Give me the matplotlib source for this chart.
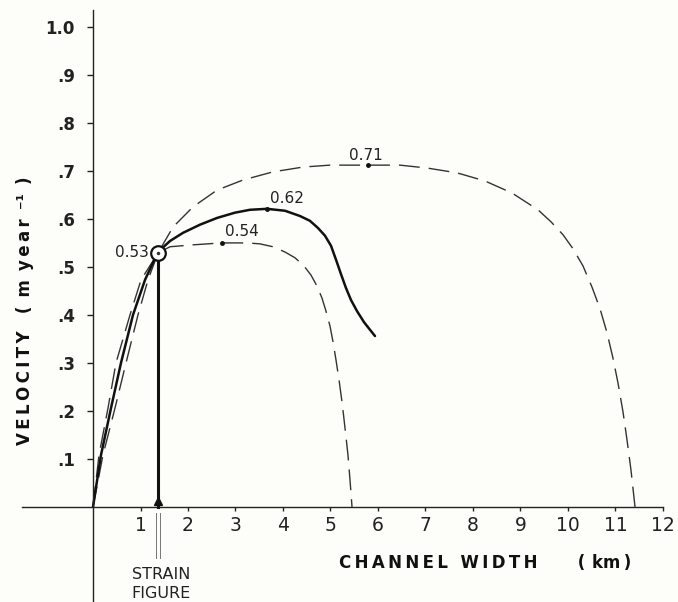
import matplotlib
matplotlib.use("Agg")
import matplotlib.pyplot as plt

plt.rcParams['font.family'] = ['DejaVu Sans']
plt.rcParams['lines.scale_dashes'] = False

# ---- data (channel width km, velocity m/yr) ----
w71 = [0, 0.126, 0.316, 0.484, 0.779, 1.011, 1.368, 1.684, 2.105, 2.611, 3.158, 3.789,
       4.421, 4.989, 5.789, 6.463, 7.032, 7.663, 8.253, 8.821, 9.368, 9.642, 9.895,
       10.105, 10.316, 10.505, 10.674, 10.821, 10.947, 11.053, 11.158, 11.242, 11.326, 11.411]
v71 = [0, 0.108, 0.206, 0.300, 0.400, 0.473, 0.529, 0.583, 0.625, 0.660, 0.681, 0.698,
       0.708, 0.712, 0.712, 0.712, 0.706, 0.696, 0.679, 0.654, 0.619, 0.594, 0.567,
       0.538, 0.502, 0.458, 0.413, 0.363, 0.310, 0.258, 0.198, 0.140, 0.077, 0.0]

w62 = [0, 0.168, 0.379, 0.589, 0.842, 1.095, 1.368, 1.621, 1.895, 2.253, 2.611, 2.989,
       3.305, 3.663, 4.042, 4.358, 4.568, 4.737, 4.884, 5.011, 5.116, 5.221, 5.326,
       5.432, 5.558, 5.705, 5.832, 5.937]
v62 = [0, 0.108, 0.206, 0.300, 0.400, 0.473, 0.531, 0.554, 0.571, 0.588, 0.602, 0.613,
       0.619, 0.621, 0.617, 0.606, 0.596, 0.581, 0.565, 0.544, 0.515, 0.485, 0.456,
       0.431, 0.408, 0.385, 0.369, 0.356]

w54 = [0, 0.21, 0.463, 0.695, 0.947, 1.158, 1.368, 1.621, 2.105, 2.716, 3.242, 3.516,
       3.789, 4.042, 4.253, 4.442, 4.589, 4.716, 4.821, 4.905, 4.989, 5.053, 5.116,
       5.179, 5.242, 5.305, 5.368, 5.411, 5.453]
v54 = [0, 0.108, 0.206, 0.300, 0.400, 0.473, 0.529, 0.542, 0.546, 0.550, 0.550, 0.548,
       0.542, 0.531, 0.519, 0.502, 0.483, 0.460, 0.435, 0.408, 0.377, 0.344, 0.306,
       0.265, 0.219, 0.165, 0.108, 0.056, 0.0]

peak_w = [2.716, 3.663, 5.789]
peak_v = [0.550, 0.621, 0.712]
peak_labels = ["0.54", "0.62", "0.71"]

strain_w = 1.368
strain_v = 0.53
strain_label = "0.53"

xticks = [1, 2, 3, 4, 5, 6, 7, 8, 9, 10, 11, 12]
xticklabels = ["1", "2", "3", "4", "5", "6", "7", "8", "9", "10", "11", "12"]
yticks = [0.1, 0.2, 0.3, 0.4, 0.5, 0.6, 0.7, 0.8, 0.9, 1.0]
yticklabels = [".1", ".2", ".3", ".4", ".5", ".6", ".7", ".8", ".9", "1.0"]

TS = '\u2009'  # thin space for letter spacing


def track(s):
    return TS.join(s)


bg = '#fdfdf9'
fig = plt.figure(figsize=(6.78, 6.02), dpi=100, facecolor=bg)
ax = fig.add_axes([0, 0, 1, 1], facecolor=bg)
ax.set_xlim(-1.958, 12.316)
ax.set_ylim(-0.198, 1.056)

for s in ['top', 'right']:
    ax.spines[s].set_visible(False)
ax.spines['left'].set_position(('data', 0))
ax.spines['bottom'].set_position(('data', 0))
ax.spines['left'].set_bounds(-0.198, 1.035)
ax.spines['bottom'].set_bounds(-1.49, 12)
for s in ['left', 'bottom']:
    ax.spines[s].set_linewidth(1.0)
    ax.spines[s].set_color('#222222')

ax.set_xticks(xticks)
ax.set_xticklabels(xticklabels, fontsize=13.5, color='#222222')
ax.set_yticks(yticks)
ax.set_yticklabels(yticklabels, fontsize=12, fontweight='bold', color='#222222')
ax.tick_params(axis='x', direction='out', length=3, width=1.0, pad=3.5, color='#222222')
ax.tick_params(axis='y', direction='out', length=4.5, width=1.0, pad=8.5, color='#222222')

dash = (0, (15, 6.5))
ax.plot(w71, v71, color='#333333', lw=1.0, linestyle=dash)
ax.plot(w54, v54, color='#333333', lw=1.0, linestyle=dash)
ax.plot(w62, v62, color='#111111', lw=1.8, solid_capstyle='round', solid_joinstyle='round')
ax.plot(peak_w, peak_v, 'o', color='#111111', ms=2.5, zorder=5)

label_offsets = [(0.42, 0.023), (0.42, 0.021), (-0.04, 0.021)]
for w, v, t, (dx, dy) in zip(peak_w, peak_v, peak_labels, label_offsets):
    ax.text(w + dx, v + dy, t, fontsize=11, ha='center', va='center', color='#222222')

# strain figure marker
ax.plot([strain_w, strain_w], [0.0, strain_v], color='#111111', lw=2.2, zorder=4)
ax.plot([strain_w], [0.012], marker='^', color='#111111', ms=6, zorder=4)
ax.plot([strain_w - 0.04, strain_w - 0.04], [-0.012, -0.106], color='#777777', lw=0.7)
ax.plot([strain_w + 0.04, strain_w + 0.04], [-0.012, -0.106], color='#777777', lw=0.7)
ax.plot([strain_w], [strain_v], marker='o', ms=10.5, mfc='white', mec='#111111', mew=1.6, zorder=6)
ax.plot([strain_w], [strain_v], marker='o', ms=1.5, color='#333333', zorder=7)
ax.text(strain_w - 0.547, strain_v, strain_label, fontsize=11, ha='center', va='center', color='#222222')
ax.text(1.43, -0.140, "STRAIN", fontsize=11.5, ha='center', va='center', color='#222222')
ax.text(1.43, -0.181, "FIGURE", fontsize=11.5, ha='center', va='center', color='#222222')

xlab = track("CHANNEL") + TS + " " + TS + track("WIDTH") + "       (" + TS + TS + "km" + TS + ")"
ylab = track("VELOCITY") + "   (" + TS + " m " + TS + track("year") + TS + " \u207b\u00b9" + TS + " )"
fig.text(485 / 678, 1 - 563 / 602, xlab, fontsize=12,
         fontweight='bold', ha='center', va='center', color='#111111')
fig.text(25 / 678, 1 - 311 / 602, ylab, fontsize=12,
         fontweight='bold', rotation=90, ha='center', va='center', color='#111111')

fig.savefig("out.png", dpi=100, facecolor=bg)
